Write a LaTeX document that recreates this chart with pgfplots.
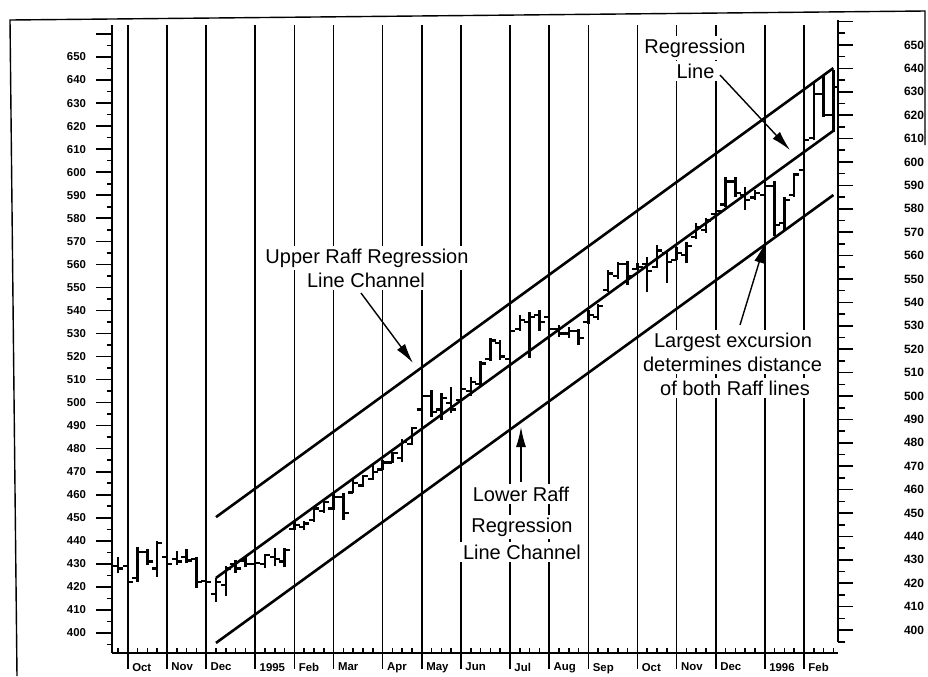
\documentclass[border=0pt]{standalone}
\usepackage{pgfplots}
\pgfplotsset{compat=1.18}
\usepackage{pgfplotstable}
\usepackage{fontspec}
\setmainfont{Liberation Sans}
\usetikzlibrary{arrows.meta}

\pgfdeclareplotmark{otick}{\pgfpathmoveto{\pgfqpoint{-2.6pt}{0pt}}\pgfpathlineto{\pgfqpoint{0pt}{0pt}}\pgfusepathqstroke}
\pgfdeclareplotmark{ctick}{\pgfpathmoveto{\pgfqpoint{0pt}{0pt}}\pgfpathlineto{\pgfqpoint{2.6pt}{0pt}}\pgfusepathqstroke}

% weekly bars: week index, open, high, low, close
\pgfplotstableread{
w O H L C
0 429 433 426 428
1 429 430 418 422
2 424 437.5 422 435
3 435 436.5 429.5 431
4 428 440 424.5 439
5 433 435.5 428.5 430
6 432 435.5 429.5 431
7 433 436.5 430.5 431.5
8 432 433 419.5 422
9 422.5 430 415.5 422
10 417 424 413.5 422
11 421 429 416 428
12 430 431.5 426 428
13 431.5 433 428.5 430
14 430 432.5 426 430.5
15 430 434.5 428 434
16 433 437 429 432
17 431 437 428.5 436
18 445 448.3 444.5 447
19 446 448.7 444.5 447.5
20 449 454.8 448.3 454
21 453 457.7 452 457
22 454 460.8 453.4 459
23 459 460.6 449 452
24 461 466.4 460.6 465
25 464 468.6 463.5 468
26 467 472.9 466.4 470
27 471 475 470.7 474
28 474 478.7 473.6 478
29 476 484 474.4 483
30 482 489.5 481.6 489
31 497 504.2 495.5 503
32 503 505.5 493.9 496
33 497 504.2 492.4 502
34 500 506.9 495.4 497
35 501 507 499.8 506
36 505 511 503 509
37 508 518 507 517
38 519 528 518 527
39 526 527 518.5 520
40 519 533 517 531
41 532 538 531 536
42 535 539.5 519.5 537
43 538 540 531 535
44 537 539.8 531 532
45 532 533.7 528.6 530
46 530 533 528 531
47 531 532 525 528
48 535 540 534 538
49 537 543 535.8 542
50 549 557.5 548 556
51 555 561 553.5 560
52 560 561.5 551 555
53 558 560.5 557.5 559
54 560 563 548 557
55 559 568.4 558.5 566
56 565 566 552 561
57 562 567.6 561.9 565
58 564 569.8 560.4 568
59 572 577.8 571 576
60 575 580 573.5 579
61 582 584.3 579.3 583
62 586 598 585 596
63 596 598 589.3 591
64 590 593.7 583.6 588
65 589 592.2 587.9 591
66 590 596.6 585 594
67 594 596 572.5 577
68 578 589.3 575 588
69 590 599.5 589.3 599
70 601 615 599 614
71 615 639 614 634
72 634 642 624 625
73 625 644.3 617.6 637
}\ohlc

\begin{document}
\begin{tikzpicture}[x=0.5pt,y=-0.5pt]
\useasboundingbox (0,0) rectangle (928,676);
% scanned frame
\draw[line width=0.7pt] (17,676) -- (10,20) -- (925,11) -- (925,145);

\begin{axis}[
  at={(56pt,-326.5pt)}, anchor=south west,
  scale only axis, width=363pt, height=314pt,
  xmin=-0.612, xmax=73.47, ymin=391.32, ymax=663.89,
  axis x line*=bottom, axis y line*=left,
  axis line style={line width=1pt, black, -},
  tick align=outside,
  xtick={1,5,9,14,18,22,27,31,35,40,44,48,53,57,61,66,70},
  xticklabels={Oct,Nov,Dec,1995,Feb,Mar,Apr,May,Jun,Jul,Aug,Sep,Oct,Nov,Dec,1996,Feb},
  minor xtick={0,...,73},
  xmajorgrids, major grid style={black, line width=0.75pt},
  ytick={400,410,...,650}, minor ytick={395,405,...,655},
  extra y ticks={660}, extra y tick labels={},
  major tick length=8pt, minor tick length=2.5pt,
  tick style={black, line width=0.8pt},
  minor x tick style={yshift=2.5pt},
  /pgf/number format/assume math mode=true,
  /pgf/number format/1000 sep={},
  yticklabel style={font=\bfseries\fontsize{5.7}{6}\selectfont, xshift=-1.5pt},
  xticklabel style={font=\bfseries\fontsize{5.7}{6}\selectfont, anchor=north west, xshift=-1.3pt},
  xticklabel shift=-6.5pt,
]
% high-low
\addplot [draw=none, mark=none,
  error bars/.cd, y dir=plus, y explicit, error mark=none,
  error bar style={draw=black, line width=1.2pt}]
  table [x=w, y=L, y error plus expr=\thisrow{H}-\thisrow{L}] {\ohlc};
% open and close ticks
\addplot [only marks, mark=otick, mark options={line width=1.1pt, black}] table [x=w, y=O] {\ohlc};
\addplot [only marks, mark=ctick, mark options={line width=1.1pt, black}] table [x=w, y=C] {\ohlc};
% Raff regression channel
\addplot [black, line width=1.3pt] coordinates {(10,450.3) (73,645.2)};
\addplot [black, line width=1.3pt] coordinates {(10,423.9) (73,618.0)};
\addplot [black, line width=1.3pt] coordinates {(10,395.7) (73,590.1)};
\end{axis}

\begin{axis}[
  at={(56pt,-321pt)}, anchor=south west,
  scale only axis, width=363pt, height=311pt,
  xmin=0, xmax=1, ymin=394.87, ymax=660.68,
  axis x line=none, axis y line*=right,
  axis line style={line width=1pt, black, -},
  tick align=outside,
  ytick={400,410,...,650}, minor ytick={395,405,...,655},
  extra y ticks={660}, extra y tick labels={},
  major tick length=7.5pt, minor tick length=3.5pt,
  tick style={black, line width=0.8pt},
  /pgf/number format/assume math mode=true,
  /pgf/number format/1000 sep={},
  yticklabel style={font=\bfseries\fontsize{6}{6}\selectfont, anchor=west, xshift=22pt},
]
\end{axis}

% annotations
\tikzset{lab/.style={font=\fontsize{10}{12}\selectfont, fill=white, inner sep=1.5pt, anchor=base}}
\node[lab] at (695,53) {Regression};
\node[lab] at (695.5,78) {Line};
\node[lab] at (367,263) {Upper Raff Regression};
\node[lab] at (366,287) {Line Channel};
\node[lab] at (521,501) {Lower Raff};
\node[lab] at (522,532) {Regression};
\node[lab] at (522,559) {Line Channel};
\node[lab] at (733,347) {Largest excursion};
\node[lab] at (732.5,371) {determines distance};
\node[lab] at (735,395) {of both Raff lines};

\tikzset{arr/.style={line width=0.7pt, -{Latex[length=10pt,width=5pt]}}}
\draw[arr] (361,293) -- (413,363);
\draw[arr] (720,75) -- (790,150);
\draw[arr] (521,482) -- (521,427);
\draw[arr] (740,325) -- (765,243);
\end{tikzpicture}
\end{document}
